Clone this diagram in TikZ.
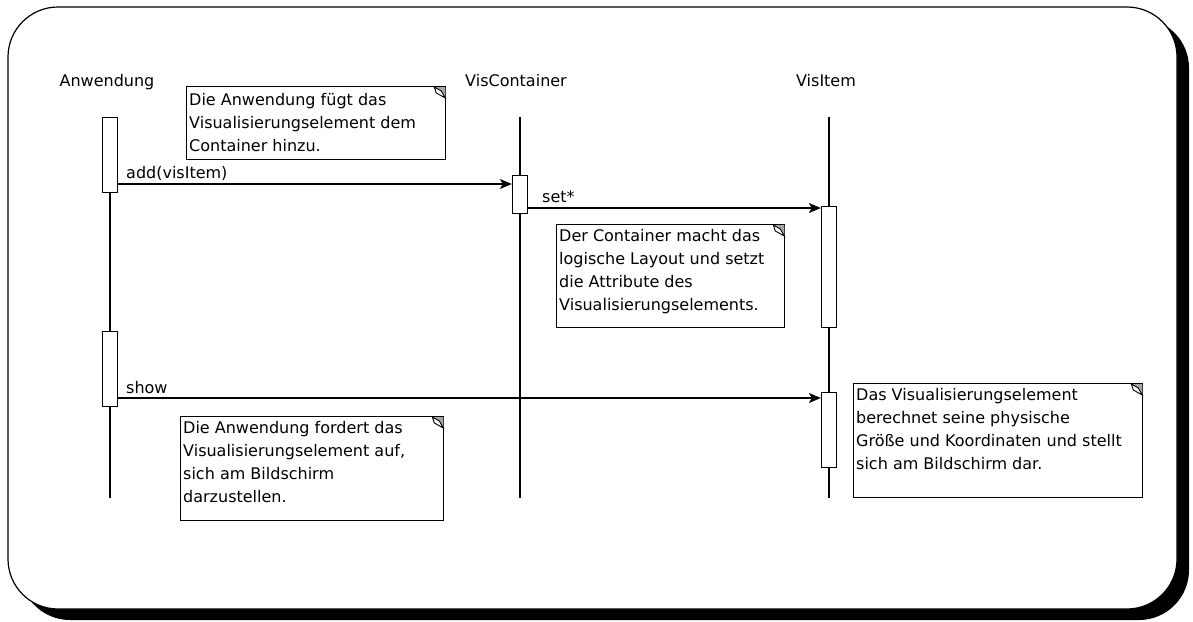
\documentclass[tikz,border=0pt]{standalone}
\usepackage{fontspec}
\setmainfont{DejaVu Sans}
\usetikzlibrary{arrows.meta,calc}
\begin{document}
\begin{tikzpicture}[x=1pt,y=-1pt,
  every node/.style={font=\fontsize{16}{23}\selectfont},
  frame/.style={draw=black,line width=1.2pt,rounded corners=50pt,fill=white},
  shadowfr/.style={fill=black,rounded corners=50pt},
  act/.style={draw=black,line width=1.3pt,fill=white,inner sep=0pt,minimum width=15pt},
  life/.style={line width=1.3pt},
  msg/.style={line width=1.3pt,-{Stealth[length=12pt,width=10pt,inset=3pt]}},
  notebox/.style={draw=black,line width=1.3pt,fill=white,inner sep=0pt},
  notetext/.style={anchor=north west,align=left,inner sep=0pt},
  lbl/.style={anchor=base west,inner sep=0pt},
  head/.style={anchor=base,inner sep=0pt}]
\useasboundingbox (0,0) rectangle (1193,621);
% frame with shadow
\fill[shadowfr] (20,18) rectangle (1189,620);
\draw[frame] (8,7) rectangle (1177,609);
% heads
\node[head] (hA) at (107,86) {Anwendung};
\node[head] (hC) at (516,86) {VisContainer};
\node[head] (hI) at (826,86) {VisItem};
% lifelines
\coordinate (lA) at (110,117); \coordinate (eA) at (110,498);
\coordinate (lC) at (520,117); \coordinate (eC) at (520,498);
\coordinate (lI) at (829,117); \coordinate (eI) at (829,498);
\draw[life] (lA) -- (eA);
\draw[life] (lC) -- (eC);
\draw[life] (lI) -- (eI);
% activations
\node[act,minimum height=75pt,anchor=north] (aA1) at (110,117) {};
\node[act,minimum height=75pt,anchor=north] (aA2) at (110,331) {};
\node[act,minimum height=38pt,anchor=north] (aC1) at (520,175) {};
\node[act,minimum height=121pt,anchor=north] (aI1) at (829,206) {};
\node[act,minimum height=75pt,anchor=north] (aI2) at (829,392) {};
% message rows
\coordinate (m1) at (0,184);
\coordinate (m2) at (0,208);
\coordinate (m3) at (0,398);
\draw[msg] (aA1.east |- m1) -- (aC1.west |- m1);
\draw[msg] (aC1.east |- m2) -- (aI1.west |- m2);
\draw[msg] (aA2.east |- m3) -- (aI2.west |- m3);
\node[lbl] (l1) at (126,178) {add(visItem)};
\node[lbl] (l2) at (542,202) {set*};
\node[lbl] (l3) at (126,393) {show};
% notes
\node[notebox,anchor=north west,minimum width=259pt,minimum height=73pt] (n1) at (186,86) {};
\node[notetext] (t1) at ($(n1.north west)+(3,7)$) {Die Anwendung fügt das\\Visualisierungselement dem\\Container hinzu.};
\node[notebox,anchor=north west,minimum width=228pt,minimum height=103pt] (n2) at (556,224) {};
\node[notetext] (t2) at ($(n2.north west)+(3,5)$) {Der Container macht das\\logische Layout und setzt\\die Attribute des\\Visualisierungselements.};
\node[notebox,anchor=north west,minimum width=263pt,minimum height=104pt] (n3) at (180,416) {};
\node[notetext] (t3) at ($(n3.north west)+(3,5)$) {Die Anwendung fordert das\\Visualisierungselement auf,\\sich am Bildschirm\\darzustellen.};
\node[notebox,anchor=north west,minimum width=289pt,minimum height=114pt] (n4) at (853,383) {};
\node[notetext] (t4) at ($(n4.north west)+(3,5)$) {Das Visualisierungselement\\berechnet seine physische\\Größe und Koordinaten und stellt\\sich am Bildschirm dar.};
% dog-ear icons
\foreach \n in {n1,n2,n3,n4}{
  \fill[gray!70] ($(\n.north east)+(-12,1)$) -- ($(\n.north east)+(-1,1)$) -- ($(\n.north east)+(-1,12)$) -- cycle;
  \draw[line width=0.9pt,fill=white] ($(\n.north east)+(-12,1)$) -- ($(\n.north east)+(-10,7)$) -- ($(\n.north east)+(-1,12)$) -- ($(\n.north east)+(-5,5)$) -- cycle;
}
\end{tikzpicture}
\end{document}
